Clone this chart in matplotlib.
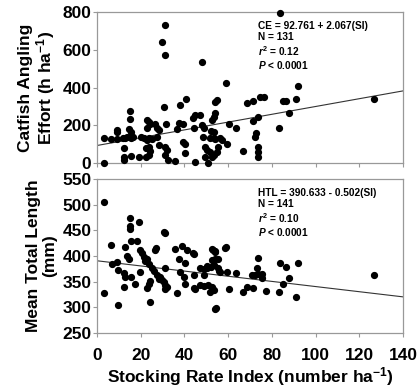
import matplotlib
matplotlib.use("Agg")
import matplotlib.pyplot as plt
import numpy as np

plt.rcParams['font.family'] = ['Liberation Sans', 'DejaVu Sans']
plt.rcParams['font.weight'] = 'bold'
plt.rcParams['mathtext.fontset'] = 'custom'
plt.rcParams['mathtext.rm'] = 'Liberation Sans:bold'
plt.rcParams['mathtext.it'] = 'Liberation Sans:italic:bold'
plt.rcParams['mathtext.bf'] = 'Liberation Sans:bold'

# catfish angling effort vs stocking rate index (top panel)
ceSI = [3.3, 3.4, 6.4, 9.3, 9.3, 9.2, 12, 13, 13.7, 12.5, 12.2, 12.5,
        15.2, 15.2, 14.5, 15.5, 15.5, 16.5, 15.5, 19, 20, 21.3,
        22.9, 23.6, 22.9, 24.4, 24, 25.2, 22.9, 22.6, 23.6, 24.4, 22.6, 23.6,
        26.7, 27.4, 28.2, 27.4, 28.2,
        29.6, 31.1, 31.1,
        30.5, 31.7, 31.2, 32, 31.2, 32.3, 35.7,
        38.1, 40.9, 37.3, 39.3, 36.6, 39.3, 40.4, 40.4,
        45, 43.9, 45, 44.2, 47.3, 48, 48.8, 48.5, 49.5, 50.3, 49.5,
        47.9,
        54.1, 54.9, 52.6, 53.4, 54.1, 52.1, 53.4, 53.4, 51.8, 54.1, 51.8, 53.4, 52.6,
        56.3, 57, 59.3, 55.5, 54.7, 51, 59, 60.5, 63.6, 66.7, 68.8, 71.2, 71.2,
        73.8, 72.3, 72.8, 73.8, 73.8, 73.8, 74.6, 76.4, 83.4, 83.7, 85.2, 86.4,
        88, 91, 91.8, 126.7]
ceVal = [2, 131, 128, 175, 163, 125, 131, 131, 140, 81, 33, 16,
         276, 233, 178, 166, 135, 140, 37, 33, 140, 131,
         228, 219, 184, 205, 135, 125, 120, 77, 86, 64, 33, 42,
         205, 184, 175, 140, 95,
         643, 731, 572,
         295, 205, 86, 69, 42, 16, 8,
         307, 339, 210, 205, 178, 113, 100, 51,
         3, 240, 254, 184, 254, 201, 184, 140, 86, 69, 33,
         537,
         325, 335, 228, 245, 264, 170, 166, 135, 130, 125, 60, 42, 30,
         131, 122, 101, 86, 60, 2, 426, 207, 187, 64, 318, 330, 224,
         245, 140, 157, 86, 60, 33, 348, 352, 184, 795, 330, 330,
         267, 337, 410, 339]

# mean total length vs stocking rate index (bottom panel)
tlSI = [3, 3, 6.4, 6.9, 9.1, 9.5, 9.5,
        12.2, 13, 12.2, 13, 13.7, 14.5,
        15.2, 15.2, 15.2, 15.5, 18.3, 15.5, 17.5, 19,
        19.8, 20.6, 21.3, 22.1, 22.9, 23.6, 19.8,
        23.6, 22.9, 24.4, 24.4, 25.2, 25.9, 26.7, 27.1,
        27.4, 28.2, 29, 29.7, 30.5, 31.2, 31.2, 30.5, 31.2, 32, 31.2,
        35.8, 37.3, 36.6, 38.1, 38.9, 41.2, 39.6, 40.4, 40.4,
        44, 44.5, 44.2, 44.2, 45,
        47.3, 48.8, 50.3, 48.8, 47.3, 48.8, 51,
        51.8, 53.4, 52.6, 54.1, 52.6, 54.1, 54.1, 52.6, 55.6, 56.4,
        58.7, 53.2, 54, 59, 55.5, 50.5, 52, 53.5, 55.5,
        59.6, 63.6, 60.5, 54.4, 66.7, 68.8, 71.2, 73.8, 73,
        71, 72.5, 73.8, 75.5, 75.5, 77.3, 83.7, 86.5, 91.8, 88,
        85.2, 83.4, 91, 126.7]
tlVal = [506, 327, 422, 385, 388, 372, 304,
         366, 359, 340, 418, 400, 394,
         474, 459, 452, 429, 429, 359, 346, 467,
         411, 405, 398, 390, 394, 385, 369,
         345, 338, 352, 310, 377, 370, 411, 415,
         362, 356, 360, 354, 447, 444, 377, 350, 343, 340, 335,
         414, 394, 327, 369, 420, 411, 359, 346, 387,
         405, 404, 362, 338, 335,
         377, 375, 377, 362, 343, 341, 344,
         330, 334, 340, 297, 414, 410, 395, 393, 370, 368,
         415, 411, 408, 417, 395, 380, 378, 382, 376,
         369, 367, 336, 299, 330, 340, 337, 397, 376,
         362, 362, 364, 365, 358, 332, 387, 379, 387, 358,
         346, 330, 321, 362]

ceFit = [92.761, 2.067]
tlFit = [390.633, -0.502]

ceText = "CE = 92.761 + 2.067(SI)\nN = 131\n$\\mathit{r}^2$ = 0.12\n$\\mathit{P}$ < 0.0001"
tlText = "HTL = 390.633 - 0.502(SI)\nN = 141\n$\\mathit{r}^2$ = 0.10\n$\\mathit{P}$ < 0.0001"

fig = plt.figure(figsize=(4.19, 3.88), dpi=100)
axTop = fig.add_axes([0.2315, 0.5799, 0.7303, 0.389])
axBot = fig.add_axes([0.2315, 0.1418, 0.7303, 0.397])

lineX = np.array([0, 140])

for ax, xs, ys, fit, txt in [(axTop, ceSI, ceVal, ceFit, ceText),
                             (axBot, tlSI, tlVal, tlFit, tlText)]:
    ax.plot(xs, ys, 'o', color='black', markersize=4.2, clip_on=False, zorder=3)
    ax.plot(lineX, fit[0] + fit[1] * lineX, color='#333333', linewidth=0.8)
    ax.set_xlim(0, 140)
    ax.set_xticks(np.arange(0, 141, 20))
    for sp in ax.spines.values():
        sp.set_color('#999999')
        sp.set_linewidth(0.9)
    ax.tick_params(direction='out', length=3, width=0.8, color='#999999',
                   labelsize=12.5, pad=1)
    ax.text(0.527, 0.94, txt, transform=ax.transAxes, fontsize=7.3,
            fontweight='bold', va='top', ha='left', linespacing=1.15)

axTop.set_ylim(0, 800)
axTop.set_yticks([0, 200, 400, 600, 800])
axTop.set_xticklabels([])
axTop.set_ylabel("Catfish Angling\nEffort (h ha$^{-1}$)", fontsize=12.5,
                 fontweight='bold', linespacing=1.05, labelpad=4)

axBot.set_ylim(250, 550)
axBot.set_yticks(np.arange(250, 551, 50))
axBot.set_ylabel("Mean Total Length\n(mm)", fontsize=12.5,
                 fontweight='bold', linespacing=1.05, labelpad=4)
axBot.set_xlabel("Stocking Rate Index (number ha$^{-1}$)", fontsize=12.5,
                 fontweight='bold', labelpad=1)
axBot.tick_params(axis='x', pad=8)

fig.savefig("out.png", dpi=100)
